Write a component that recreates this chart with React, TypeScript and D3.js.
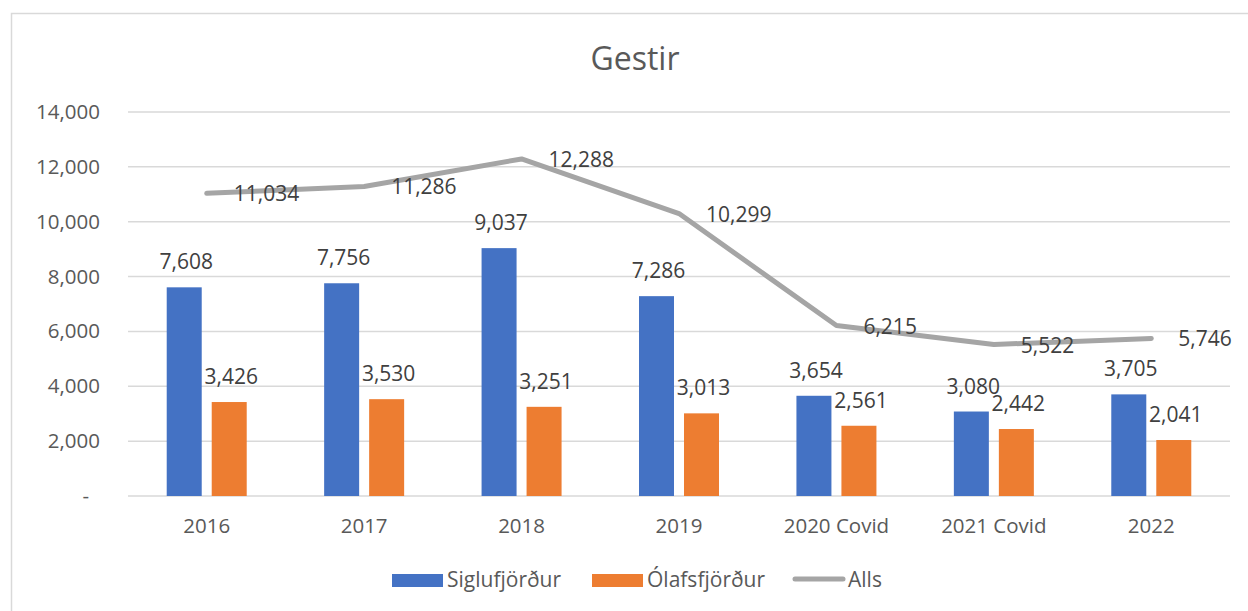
import { useEffect, useRef } from 'react';
import * as d3 from 'd3';

// Chart data
const categories = ['2016', '2017', '2018', '2019', '2020 Covid', '2021 Covid', '2022'];
const siglufjordur = [7608, 7756, 9037, 7286, 3654, 3080, 3705];
const olafsfjordur = [3426, 3530, 3251, 3013, 2561, 2442, 2041];
const alls = [11034, 11286, 12288, 10299, 6215, 5522, 5746];
const yTicks = [0, 2000, 4000, 6000, 8000, 10000, 12000, 14000];

const seriesNames = ['Siglufjörður', 'Ólafsfjörður'];
const seriesColors = ['#4472c4', '#ed7d31'];
const lineColor = '#a5a5a5';

export default function App() {
  const svgRef = useRef<SVGSVGElement>(null);

  useEffect(() => {
    if (!svgRef.current) return;
    const svg = d3.select(svgRef.current);
    svg.selectAll('*').remove();

    const width = 1248;
    const height = 611;
    const font = '"Open Sans", "DejaVu Sans", sans-serif';
    const plot = { left: 128, right: 1230, top: 112, bottom: 496 };

    svg.attr('width', width).attr('height', height);

    // chart frame
    svg.append('rect')
      .attr('x', 11.5).attr('y', 13.5)
      .attr('width', 1260).attr('height', 620)
      .attr('fill', '#fff')
      .attr('stroke', '#d9d9d9')
      .attr('stroke-width', 1.5);

    // title
    svg.append('text')
      .attr('x', 635).attr('y', 70)
      .attr('text-anchor', 'middle')
      .attr('font-family', font)
      .attr('font-size', 32)
      .attr('fill', '#595959')
      .text('Gestir');

    const x = d3.scaleBand<string>()
      .domain(categories)
      .range([plot.left, plot.right]);

    const bw = x.bandwidth();
    const x1 = d3.scaleBand<number>()
      .domain([0, 1])
      .range([bw / 2 - 40, bw / 2 + 40])
      .paddingInner(10 / 45);

    const y = d3.scaleLinear()
      .domain([0, 14000])
      .range([plot.bottom, plot.top]);

    const fmt = d3.format(',');

    // gridlines
    svg.append('g')
      .selectAll('line')
      .data(yTicks)
      .join('line')
      .attr('x1', plot.left).attr('x2', plot.right)
      .attr('y1', d => y(d)).attr('y2', d => y(d))
      .attr('stroke', '#d9d9d9')
      .attr('stroke-width', 1.5);

    // y labels
    svg.append('g')
      .selectAll('text')
      .data(yTicks)
      .join('text')
      .attr('x', d => (d === 0 ? 89 : 100))
      .attr('y', d => y(d) + 7)
      .attr('text-anchor', 'end')
      .attr('font-family', font)
      .attr('font-size', 20.5)
      .attr('fill', '#595959')
      .text(d => (d === 0 ? '-' : fmt(d)));

    // x labels
    svg.append('g')
      .selectAll('text')
      .data(categories)
      .join('text')
      .attr('x', d => (x(d) as number) + bw / 2)
      .attr('y', 533)
      .attr('text-anchor', 'middle')
      .attr('font-family', font)
      .attr('font-size', 20.5)
      .attr('fill', '#595959')
      .text(d => d);

    // bars
    const barSeries = [siglufjordur, olafsfjordur];
    barSeries.forEach((vals, si) => {
      const g = svg.append('g');
      g.selectAll('rect')
        .data(vals)
        .join('rect')
        .attr('x', (_, i) => (x(categories[i]) as number) + (x1(si) as number))
        .attr('y', d => y(d))
        .attr('width', x1.bandwidth())
        .attr('height', d => y(0) - y(d))
        .attr('fill', seriesColors[si]);

      g.selectAll('text')
        .data(vals)
        .join('text')
        .attr('x', (_, i) => (x(categories[i]) as number) + (x1(si) as number) + x1.bandwidth() / 2 + 2)
        .attr('y', d => y(d) - 18)
        .attr('text-anchor', 'middle')
        .attr('font-family', font)
        .attr('font-size', 21)
        .attr('fill', '#404040')
        .text(d => fmt(d));
    });

    // total line
    const line = d3.line<number>()
      .x((_, i) => (x(categories[i]) as number) + bw / 2)
      .y(d => y(d));

    svg.append('path')
      .datum(alls)
      .attr('d', line)
      .attr('fill', 'none')
      .attr('stroke', lineColor)
      .attr('stroke-width', 5)
      .attr('stroke-linecap', 'round')
      .attr('stroke-linejoin', 'round');

    svg.append('g')
      .selectAll('text')
      .data(alls)
      .join('text')
      .attr('x', (_, i) => (x(categories[i]) as number) + bw / 2 + 27)
      .attr('y', d => y(d) + 8)
      .attr('font-family', font)
      .attr('font-size', 21)
      .attr('fill', '#404040')
      .text(d => fmt(d));

    // legend
    const legend = svg.append('g').attr('font-family', font).attr('font-size', 21).attr('fill', '#595959');
    const legendItems = [
      { name: seriesNames[0], kind: 'bar', color: seriesColors[0], x: 392 },
      { name: seriesNames[1], kind: 'bar', color: seriesColors[1], x: 592 },
      { name: 'Alls', kind: 'line', color: lineColor, x: 793 },
    ];
    legendItems.forEach(item => {
      if (item.kind === 'bar') {
        legend.append('rect')
          .attr('x', item.x).attr('y', 574)
          .attr('width', 51).attr('height', 13)
          .attr('fill', item.color);
      } else {
        legend.append('line')
          .attr('x1', item.x + 2).attr('x2', item.x + 50)
          .attr('y1', 579).attr('y2', 579)
          .attr('stroke', item.color)
          .attr('stroke-width', 5)
          .attr('stroke-linecap', 'round');
      }
      legend.append('text')
        .attr('x', item.x + 55)
        .attr('y', 587)
        .text(item.name);
    });
  }, []);

  return (
    <div style={{ position: 'absolute', left: 0, top: 0 }}>
      <svg ref={svgRef}></svg>
    </div>
  );
}
